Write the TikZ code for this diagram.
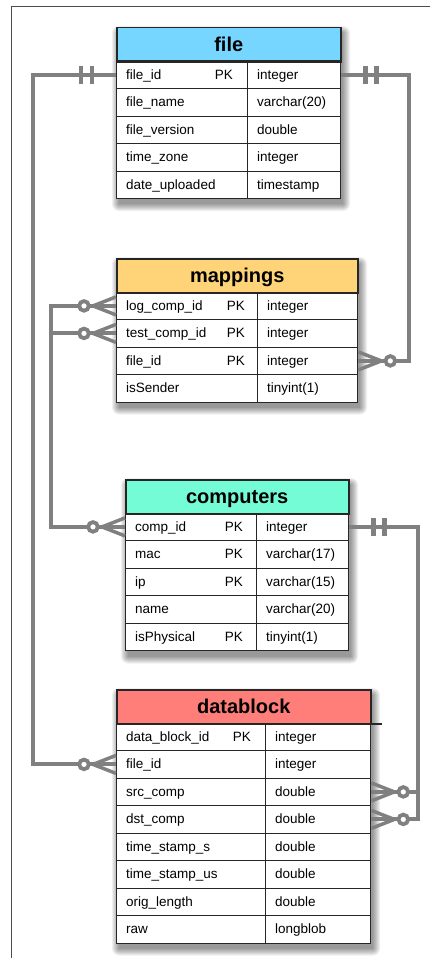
\documentclass[tikz,border=0pt]{standalone}
\usepackage{fontspec}
\setmainfont{Liberation Sans}
\definecolor{relgray}{HTML}{808080}
\definecolor{skyc}{HTML}{76D6FF}
\definecolor{cantc}{HTML}{FFD479}
\definecolor{spinc}{HTML}{73FCD6}
\definecolor{salmc}{HTML}{FF7E79}
\tikzset{
  hdr/.style={draw=black!85, line width=1.5, fill=#1, minimum height=33.5, inner sep=0, anchor=north west},
  htxt/.style={inner sep=0, anchor=base, font=\fontsize{20}{24}\selectfont\bfseries},
  cell/.style={draw=black!85, line width=1.3, fill=white, minimum height=27.5, inner sep=0, anchor=north west},
  txt/.style={inner sep=0, anchor=base west, font=\fontsize{13.5}{16}\selectfont},
  rel/.style={draw=relgray, line width=4},
  tickmark/.style={draw=relgray, line width=4.5},
}
% #1 name, #2 left x, #3 top y, #4 right x, #5 divider x, #6 PK right x, #7 colour, #8 title, #9 rows
\newcommand{\erdtable}[9]{%
  \node[hdr=#7, minimum width={#4-#2}] (#1h) at (#2,#3) {};
  \node[htxt] at ([yshift=-7]#1h.center) {#8};
  \foreach \rn/\rk/\rt [count=\ri] in {#9} {
    \pgfmathsetmacro\ytop{#3+33.5+(\ri-1)*27.5}
    \pgfmathsetmacro\ybase{\ytop+13.75+5}
    \node[cell, minimum width={#5-#2}] (#1L\ri) at (#2,\ytop) {};
    \node[cell, minimum width={#4-#5}] (#1R\ri) at (#5,\ytop) {};
    \node[txt] at ({#2+10},\ybase) {\rn};
    \node[txt, anchor=base east] at (#6,\ybase) {\rk};
    \node[txt] at ({#5+10},\ybase) {\rt};
  }
  \draw[black!85, line width=1.5] (#1h.south west) -- (#1h.south east);
}
\newcommand{\tblshadow}[4]{%
  \foreach \k in {0,...,7}{%
    \fill[black, opacity=0.06, rounded corners=\k] ({#1+3-\k},{#2+6-\k}) rectangle ({#3+3+\k},{#4+6+\k});
  }
}
\newcommand{\markone}[2]{%
  \draw[tickmark] ([xshift=#2*24, yshift=9]#1) -- ([xshift=#2*24, yshift=-9]#1);
  \draw[tickmark] ([xshift=#2*35, yshift=9]#1) -- ([xshift=#2*35, yshift=-9]#1);
}
\newcommand{\markmany}[2]{%
  \draw[rel, line width=3.5] ([yshift=9]#1) -- ([xshift=#2*23]#1) -- ([yshift=-9]#1);
  \draw[rel, line width=3.8, fill=white] ([xshift=#2*32]#1) circle[radius=4.8];
}
\begin{document}
\begin{tikzpicture}[x=1pt, y=-1pt]
\useasboundingbox (0,0) rectangle (430,958);
\fill[white] (0,0) rectangle (430,958);
\draw[black!70, line width=1] (11,958) -- (11,7) -- (430,7);

\tblshadow{116}{27}{340}{198}
\tblshadow{116}{258}{357}{401.5}
\tblshadow{125}{479}{348}{650.5}
\tblshadow{116}{689}{370}{942.5}

\erdtable{file}{116}{27}{340}{247}{233}{skyc}{file}{file\_id/PK/integer, file\_name//varchar(20), file\_version//double, time\_zone//integer, date\_uploaded//timestamp}
\erdtable{map}{116}{258}{357}{257}{245}{cantc}{mappings}{log\_comp\_id/PK/integer, test\_comp\_id/PK/integer, file\_id/PK/integer, isSender//tinyint(1)}
\erdtable{comp}{125}{479}{348}{256}{243}{spinc}{computers}{comp\_id/PK/integer, mac/PK/varchar(17), ip/PK/varchar(15), name//varchar(20), isPhysical/PK/tinyint(1)}
\erdtable{db}{116}{689}{370}{265}{251}{salmc}{datablock}{data\_block\_id/PK/integer, file\_id//integer, src\_comp//double, dst\_comp//double, time\_stamp\_s//double, time\_stamp\_us//double, orig\_length//double, raw//longblob}
\draw[black!85, line width=1.3] (dbh.south east) -- ++(10,0);

\coordinate (busA) at (33,100);
\coordinate (busB) at (409,100);
\coordinate (busC) at (51,400);
\coordinate (busD) at (418,600);

\draw[rel] (fileL1.west) -| (busA) |- (dbL2.west);
\draw[rel] (fileR1.east) -| (busB) |- (mapR3.east);
\draw[rel] (mapL1.west) -| (busC) |- (compL1.west);
\draw[rel] (mapL2.west) -| (busC);
\draw[rel] (compR1.east) -| (busD) |- (dbR3.east);
\draw[rel] (dbR4.east) -| (busD);

\markone{fileL1.west}{-1}
\markone{fileR1.east}{1}
\markone{compR1.east}{1}
\markmany{dbL2.west}{-1}
\markmany{mapR3.east}{1}
\markmany{mapL1.west}{-1}
\markmany{mapL2.west}{-1}
\markmany{compL1.west}{-1}
\markmany{dbR3.east}{1}
\markmany{dbR4.east}{1}
\end{tikzpicture}
\end{document}
